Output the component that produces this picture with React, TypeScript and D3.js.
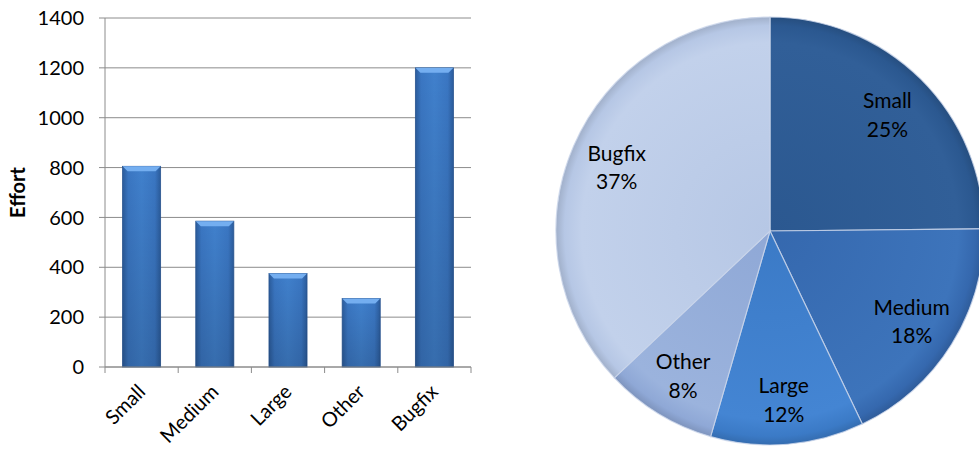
import React from "react";
import * as d3 from "d3";

const categories = ["Small", "Medium", "Large", "Other", "Bugfix"];
const effort = [805, 585, 375, 275, 1200];
const yTicks = [0, 200, 400, 600, 800, 1000, 1200, 1400];
const pieColors = ["#2b5890", "#3568ae", "#3b7ac6", "#8fa8d6", "#b6c7e5"];
const pieColorsLight = ["#315f98", "#3d74bb", "#4485d3", "#9bb3dd", "#c2d1eb"];

const W = 979;
const H = 450;
const FONT = "Lato, 'Open Sans', sans-serif";

export default function App() {
  const plot = { left: 105, right: 471, top: 18, bottom: 367 };
  const x = d3.scaleBand<string>().domain(categories).range([plot.left, plot.right]).paddingInner(0.48).paddingOuter(0.24);
  const xOuter = d3.scaleBand<string>().domain(categories).range([plot.left, plot.right]);
  const y = d3.scaleLinear().domain([0, 1400]).range([plot.bottom, plot.top]);

  const cx = 770, cy = 231, r = 214;
  const pie = d3.pie<number>().sort(null).value((d) => d);
  const arcs = pie(effort);
  const arcGen = d3.arc<d3.PieArcDatum<number>>().innerRadius(0).outerRadius(r);
  const labelArc = d3.arc<d3.PieArcDatum<number>>().innerRadius(r * 0.78).outerRadius(r * 0.78);
  const total = d3.sum(effort);

  return (
    <svg width={W} height={H} style={{ position: "absolute", left: 0, top: 0, background: "#fff" }} fontFamily={FONT}>
      <defs>
        <linearGradient id="barGrad" x1="0" x2="1" y1="0" y2="0">
          <stop offset="0" stopColor="#2b5c9c" />
          <stop offset="0.15" stopColor="#3a76c2" />
          <stop offset="0.5" stopColor="#4080cc" />
          <stop offset="0.85" stopColor="#3a76c2" />
          <stop offset="1" stopColor="#2b5c9c" />
        </linearGradient>
        <linearGradient id="barShade" x1="0" x2="0" y1="0" y2="1">
          <stop offset="0" stopColor="#000" stopOpacity="0" />
          <stop offset="1" stopColor="#000" stopOpacity="0.15" />
        </linearGradient>
        {pieColors.map((c, i) => (
          <radialGradient key={i} id={`pg${i}`} cx={0} cy={0} r={r} gradientUnits="userSpaceOnUse">
            <stop offset="0" stopColor={c} />
            <stop offset="0.88" stopColor={pieColorsLight[i]} />
            <stop offset="0.96" stopColor={c} />
            <stop offset="1" stopColor={d3.color(c)!.darker(0.35).toString()} />
          </radialGradient>
        ))}
      </defs>

      {/* gridlines */}
      {yTicks.map((t) => (
        <line key={t} x1={plot.left - 6} x2={plot.right} y1={y(t)} y2={y(t)} stroke="#8c8c8c" strokeWidth={1} />
      ))}
      <line x1={plot.left} x2={plot.left} y1={plot.top} y2={plot.bottom} stroke="#8c8c8c" />
      {xOuter.domain().map((c) => (
        <line key={c} x1={xOuter(c)!} x2={xOuter(c)!} y1={plot.bottom} y2={plot.bottom + 6} stroke="#8c8c8c" />
      ))}
      <line x1={plot.right} x2={plot.right} y1={plot.bottom} y2={plot.bottom + 6} stroke="#8c8c8c" />

      {/* bars */}
      {categories.map((c, i) => {
        const bx = x(c)!;
        const bw = x.bandwidth();
        const by = y(effort[i]);
        const bh = plot.bottom - by;
        const bev = 5;
        return (
          <g key={c}>
            <rect x={bx} y={by} width={bw} height={bh} fill="url(#barGrad)" stroke="#2a5590" strokeWidth={0.8} />
            <rect x={bx} y={by} width={bw} height={bh} fill="url(#barShade)" />
            <path
              d={`M${bx},${by}L${bx + bw},${by}L${bx + bw - bev},${by + bev}L${bx + bev},${by + bev}Z`}
              fill="#74aef0"
            />
          </g>
        );
      })}
      <line x1={plot.left} x2={plot.right} y1={plot.bottom} y2={plot.bottom} stroke="#8c8c8c" />

      {/* y tick labels */}
      {yTicks.map((t) => (
        <text key={t} x={plot.left - 21} y={y(t)} dy="0.36em" textAnchor="end" fontSize={20} fill="#000">
          {t}
        </text>
      ))}
      <text transform={`translate(25,${(plot.top + plot.bottom) / 2}) rotate(-90)`} textAnchor="middle" fontSize={20} fontWeight="bold" fill="#000">
        Effort
      </text>

      {/* x labels */}
      {categories.map((c) => {
        const px = x(c)! + x.bandwidth() / 2 + 5;
        const py = plot.bottom + 26;
        return (
          <text key={c} transform={`translate(${px},${py}) rotate(-45)`} textAnchor="end" fontSize={20} fill="#000">
            {c}
          </text>
        );
      })}

      {/* pie */}
      {arcs.map((a, i) => (
        <path key={i} d={arcGen(a)!} transform={`translate(${cx},${cy})`} fill={`url(#pg${i})`} stroke="#c9d5ea" strokeWidth={1.2} strokeOpacity={0.8} />
      ))}
      {arcs.map((a, i) => {
        const [lx, ly] = labelArc.centroid(a);
        const pct = Math.round((a.value / total) * 100);
        return (
          <text key={i} x={cx + lx} y={cy + ly} textAnchor="middle" fontSize={21} fill="#000">
            <tspan x={cx + lx} dy="-0.2em">{categories[i]}</tspan>
            <tspan x={cx + lx} dy="1.35em">{pct}%</tspan>
          </text>
        );
      })}
    </svg>
  );
}
